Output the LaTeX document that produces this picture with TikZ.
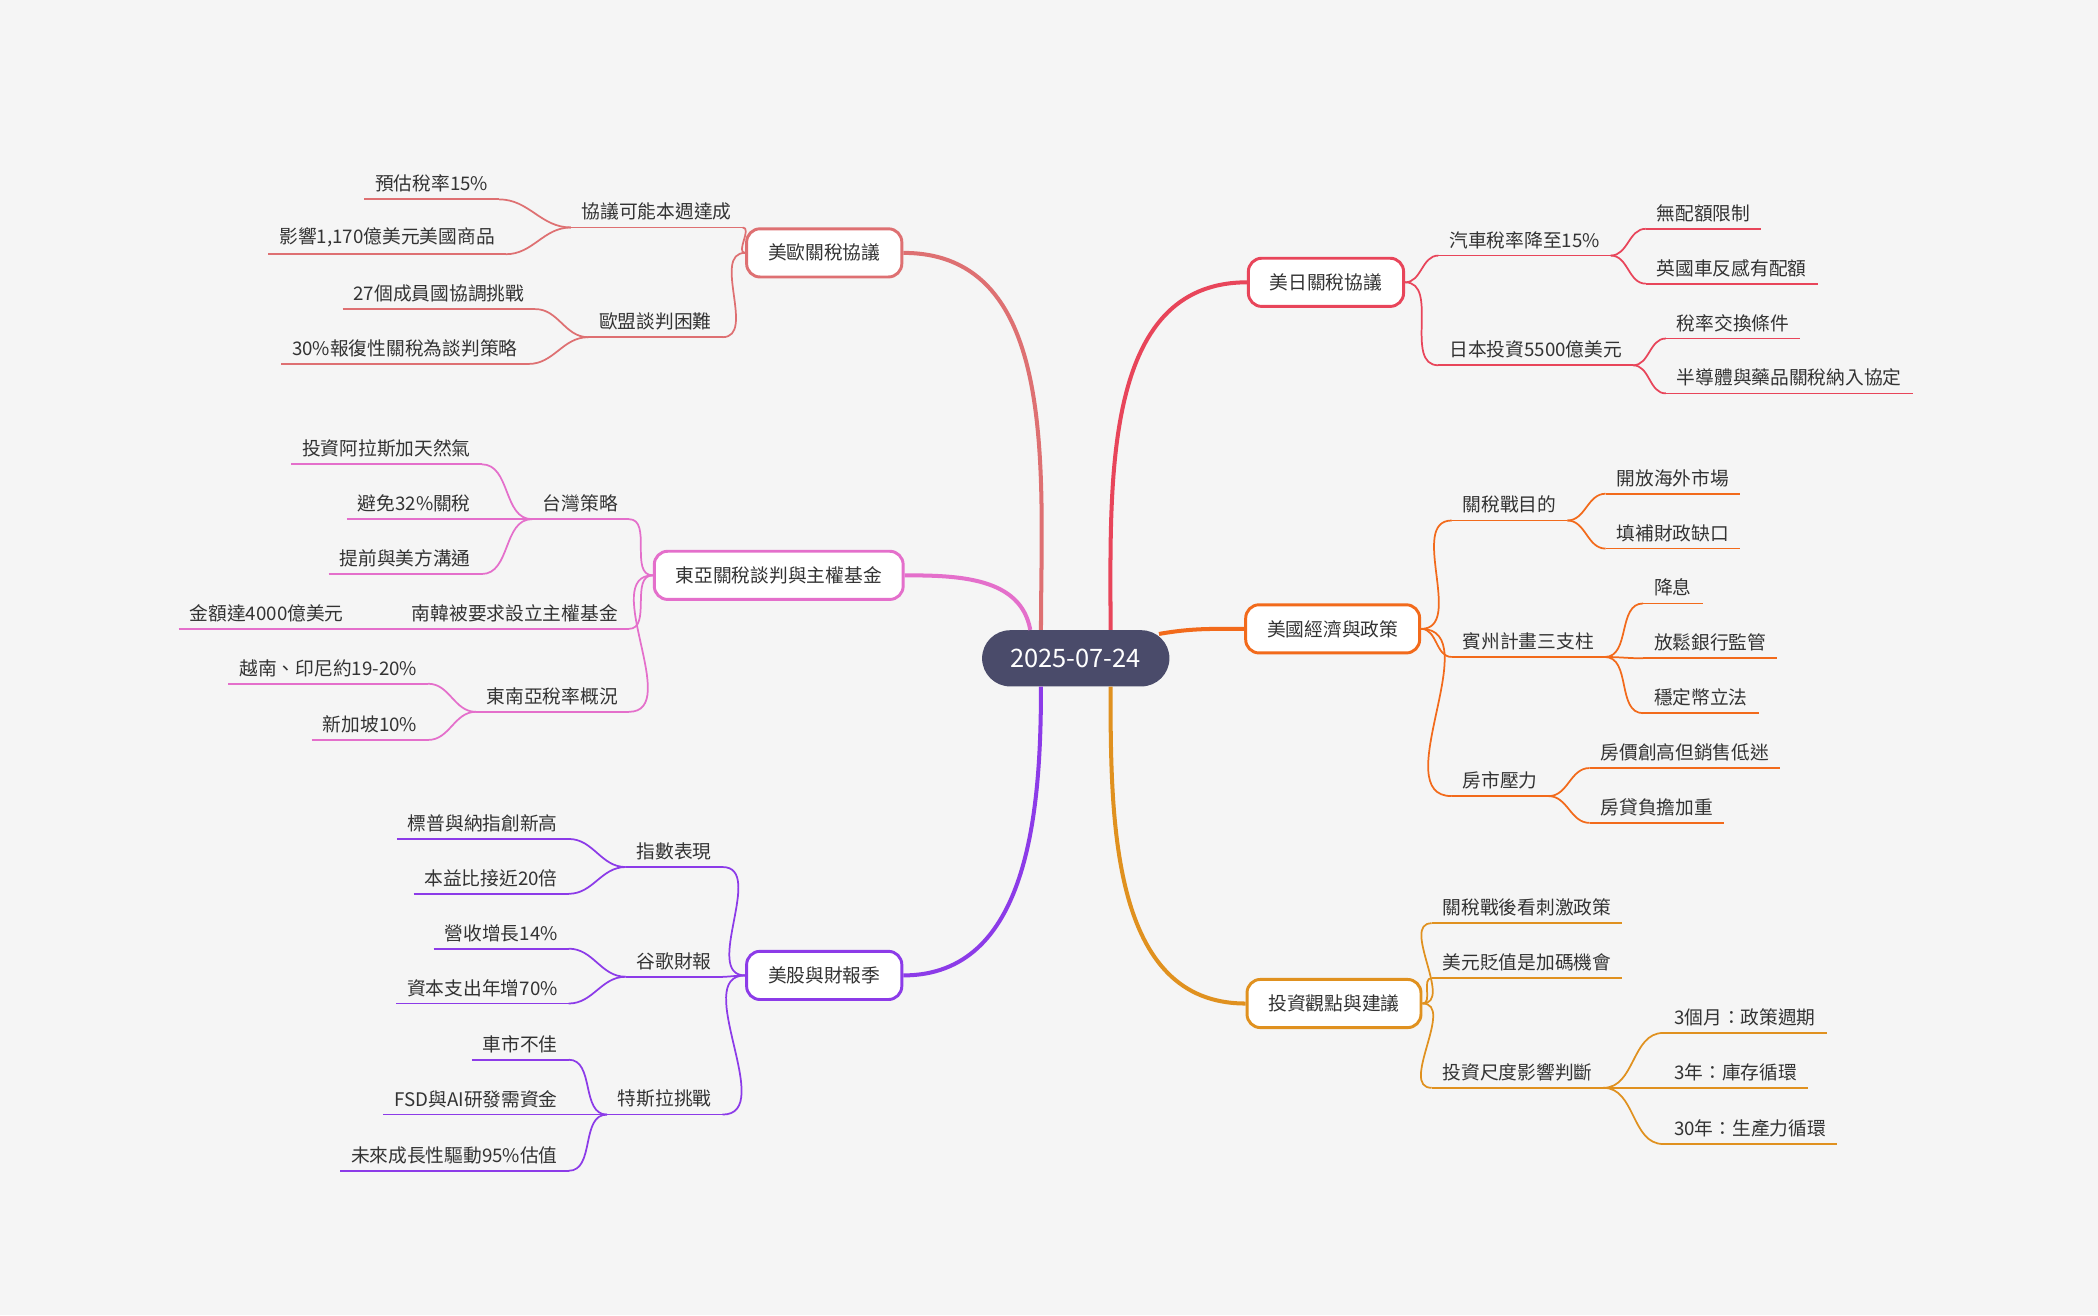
\documentclass[tikz,border=0pt]{standalone}
\usepackage{fontspec}
\setmainfont{Noto Sans CJK TC}
\definecolor{cRed}{HTML}{E8455A}
\definecolor{cOrange}{HTML}{F26A1B}
\definecolor{cAmber}{HTML}{E0911F}
\definecolor{cSalmon}{HTML}{DE7072}
\definecolor{cPink}{HTML}{E46FCB}
\definecolor{cPurple}{HTML}{8C3BE8}
\definecolor{cRoot}{HTML}{4A4B6A}
\definecolor{cText}{HTML}{333333}
\definecolor{cBg}{HTML}{F5F5F5}

\begin{document}
\begin{tikzpicture}[x=1pt,y=-1pt,
  root node/.style={fill=cRoot,text=white,rounded corners=21pt,minimum width=140pt,minimum height=42pt,font=\fontsize{19}{22}\selectfont},
  topic/.style={draw=#1,line width=2.2pt,fill=white,rounded corners=10pt,minimum height=36pt,inner xsep=16pt,text=cText,font=\fontsize{14}{16}\selectfont},
  leaf/.style={text=cText,font=\fontsize{14}{16}\selectfont,inner xsep=8pt,inner ysep=5pt,
    append after command={(\tikzlastnode.south west) edge[draw=#1,line width=1.3pt] (\tikzlastnode.south east)}},
  rleaf/.style={leaf=#1,anchor=south west},
  lleaf/.style={leaf=#1,anchor=south east},
  main/.style={draw=#1,line width=3pt},
  sub/.style={draw=#1,line width=1.3pt}]

	\fill[cBg] (0,0) rectangle (1568,983);

	%root and topics
	\node[root node] (root) at (804,492) {2025-07-24};
	\node[topic=cRed] (usjp) at (991,211) {美日關稅協議};
	\node[topic=cOrange] (econ) at (996,470) {美國經濟與政策};
	\node[topic=cAmber] (invest) at (997,750) {投資觀點與建議};
	\node[topic=cSalmon] (useu) at (616,189) {美歐關稅協議};
	\node[topic=cPink] (ea) at (582,430) {東亞關稅談判與主權基金};
	\node[topic=cPurple] (stock) at (616,729) {美股與財報季};

	\draw[main=cRed] ([xshift=26pt]root.north) to[out=90,in=180] (usjp.west);
	\draw[main=cOrange] ([xshift=-8pt,yshift=-3pt]root.north east) to[out=10,in=180] (econ.west);
	\draw[main=cAmber] ([xshift=26pt]root.south) to[out=-90,in=180] (invest.west);
	\draw[main=cSalmon] ([xshift=-26pt]root.north) to[out=90,in=0] (useu.east);
	\draw[main=cPink] ([xshift=-34pt]root.north) to[out=100,in=0] (ea.east);
	\draw[main=cPurple] ([xshift=-26pt]root.south) to[out=-90,in=0] (stock.east);

	%美日關稅協議
	\node[rleaf=cRed] (car) at (1075,191) {汽車稅率降至15\%};
	\node[rleaf=cRed] (quota) at (1230,171) {無配額限制};
	\node[rleaf=cRed] (uk) at (1230,212) {英國車反感有配額};
	\node[rleaf=cRed] (jpinv) at (1075,273) {日本投資5500億美元};
	\node[rleaf=cRed] (swap) at (1245,253) {稅率交換條件};
	\node[rleaf=cRed] (semi) at (1245,294) {半導體與藥品關稅納入協定};
	\path[sub=cRed]
		(usjp.east) edge[out=0,in=180] (car.south west)
		(usjp.east) edge[out=0,in=180] (jpinv.south west)
		(car.south east) edge[out=0,in=180] (quota.south west)
		(car.south east) edge[out=0,in=180] (uk.south west)
		(jpinv.south east) edge[out=0,in=180] (swap.south west)
		(jpinv.south east) edge[out=0,in=180] (semi.south west);

	%美國經濟與政策
	\node[rleaf=cOrange] (goal) at (1085,389) {關稅戰目的};
	\node[rleaf=cOrange] (open) at (1200,369) {開放海外市場};
	\node[rleaf=cOrange] (fill) at (1200,410) {填補財政缺口};
	\node[rleaf=cOrange] (penn) at (1085,491) {賓州計畫三支柱};
	\node[rleaf=cOrange] (rate) at (1228,451) {降息};
	\node[rleaf=cOrange] (bank) at (1228,492) {放鬆銀行監管};
	\node[rleaf=cOrange] (coin) at (1228,533) {穩定幣立法};
	\node[rleaf=cOrange] (house) at (1085,595) {房市壓力};
	\node[rleaf=cOrange] (price) at (1188,574) {房價創高但銷售低迷};
	\node[rleaf=cOrange] (loan) at (1188,615) {房貸負擔加重};
	\path[sub=cOrange]
		(econ.east) edge[out=0,in=180] (goal.south west)
		(econ.east) edge[out=0,in=180] (penn.south west)
		(econ.east) edge[out=0,in=180] (house.south west)
		(goal.south east) edge[out=0,in=180] (open.south west)
		(goal.south east) edge[out=0,in=180] (fill.south west)
		(penn.south east) edge[out=0,in=180] (rate.south west)
		(penn.south east) edge[out=0,in=180] (bank.south west)
		(penn.south east) edge[out=0,in=180] (coin.south west)
		(house.south east) edge[out=0,in=180] (price.south west)
		(house.south east) edge[out=0,in=180] (loan.south west);

	%投資觀點與建議
	\node[rleaf=cAmber] (stim) at (1070,690) {關稅戰後看刺激政策};
	\node[rleaf=cAmber] (usd) at (1070,731) {美元貶值是加碼機會};
	\node[rleaf=cAmber] (scale) at (1070,813) {投資尺度影響判斷};
	\node[rleaf=cAmber] (m3) at (1243,772) {3個月：政策週期};
	\node[rleaf=cAmber] (y3) at (1243,813) {3年：庫存循環};
	\node[rleaf=cAmber] (y30) at (1243,855) {30年：生產力循環};
	\path[sub=cAmber]
		(invest.east) edge[out=0,in=180] (stim.south west)
		(invest.east) edge[out=0,in=180] (usd.south west)
		(invest.east) edge[out=0,in=180] (scale.south west)
		(scale.south east) edge[out=0,in=180] (m3.south west)
		(scale.south east) edge[out=0,in=180] (y3.south west)
		(scale.south east) edge[out=0,in=180] (y30.south west);

	%美歐關稅協議
	\node[lleaf=cSalmon] (deal) at (555,170) {協議可能本週達成};
	\node[lleaf=cSalmon] (est) at (373,149) {預估稅率15\%};
	\node[lleaf=cSalmon] (goods) at (378,190) {影響1,170億美元美國商品};
	\node[lleaf=cSalmon] (eu) at (540,252) {歐盟談判困難};
	\node[lleaf=cSalmon] (m27) at (400,231) {27個成員國協調挑戰};
	\node[lleaf=cSalmon] (ret) at (395,272) {30\%報復性關稅為談判策略};
	\path[sub=cSalmon]
		(useu.west) edge[out=180,in=0] (deal.south east)
		(useu.west) edge[out=180,in=0] (eu.south east)
		(deal.south west) edge[out=180,in=0] (est.south east)
		(deal.south west) edge[out=180,in=0] (goods.south east)
		(eu.south west) edge[out=180,in=0] (m27.south east)
		(eu.south west) edge[out=180,in=0] (ret.south east);

	%東亞關稅談判與主權基金
	\node[lleaf=cPink] (tw) at (470,388) {台灣策略};
	\node[lleaf=cPink] (gas) at (360,347) {投資阿拉斯加天然氣};
	\node[lleaf=cPink] (avoid) at (360,388) {避免32\%關稅};
	\node[lleaf=cPink] (talk) at (360,429) {提前與美方溝通};
	\node[lleaf=cPink] (kr) at (470,470) {南韓被要求設立主權基金};
	\node[lleaf=cPink] (amt) at (265,470) {金額達4000億美元};
	\node[lleaf=cPink] (sea) at (470,532) {東南亞稅率概況};
	\node[lleaf=cPink] (vn) at (320,511) {越南、印尼約19-20\%};
	\node[lleaf=cPink] (sg) at (320,553) {新加坡10\%};
	\path[sub=cPink]
		(ea.west) edge[out=180,in=0] (tw.south east)
		(ea.west) edge[out=180,in=0] (kr.south east)
		(ea.west) edge[out=180,in=0] (sea.south east)
		(tw.south west) edge[out=180,in=0] (gas.south east)
		(tw.south west) edge[out=180,in=0] (avoid.south east)
		(tw.south west) edge[out=180,in=0] (talk.south east)
		(kr.south west) edge (amt.south east)
		(sea.south west) edge[out=180,in=0] (vn.south east)
		(sea.south west) edge[out=180,in=0] (sg.south east);

	%美股與財報季
	\node[lleaf=cPurple] (idx) at (540,648) {指數表現};
	\node[lleaf=cPurple] (high) at (425,627) {標普與納指創新高};
	\node[lleaf=cPurple] (pe) at (425,668) {本益比接近20倍};
	\node[lleaf=cPurple] (goog) at (540,730) {谷歌財報};
	\node[lleaf=cPurple] (rev) at (425,709) {營收增長14\%};
	\node[lleaf=cPurple] (capex) at (425,750) {資本支出年增70\%};
	\node[lleaf=cPurple] (tsla) at (540,833) {特斯拉挑戰};
	\node[lleaf=cPurple] (cars) at (425,792) {車市不佳};
	\node[lleaf=cPurple] (fsd) at (425,833) {FSD與AI研發需資金};
	\node[lleaf=cPurple] (val) at (425,875) {未來成長性驅動95\%估值};
	\path[sub=cPurple]
		(stock.west) edge[out=180,in=0] (idx.south east)
		(stock.west) edge[out=180,in=0] (goog.south east)
		(stock.west) edge[out=180,in=0] (tsla.south east)
		(idx.south west) edge[out=180,in=0] (high.south east)
		(idx.south west) edge[out=180,in=0] (pe.south east)
		(goog.south west) edge[out=180,in=0] (rev.south east)
		(goog.south west) edge[out=180,in=0] (capex.south east)
		(tsla.south west) edge[out=180,in=0] (cars.south east)
		(tsla.south west) edge[out=180,in=0] (fsd.south east)
		(tsla.south west) edge[out=180,in=0] (val.south east);

\end{tikzpicture}
\end{document}
